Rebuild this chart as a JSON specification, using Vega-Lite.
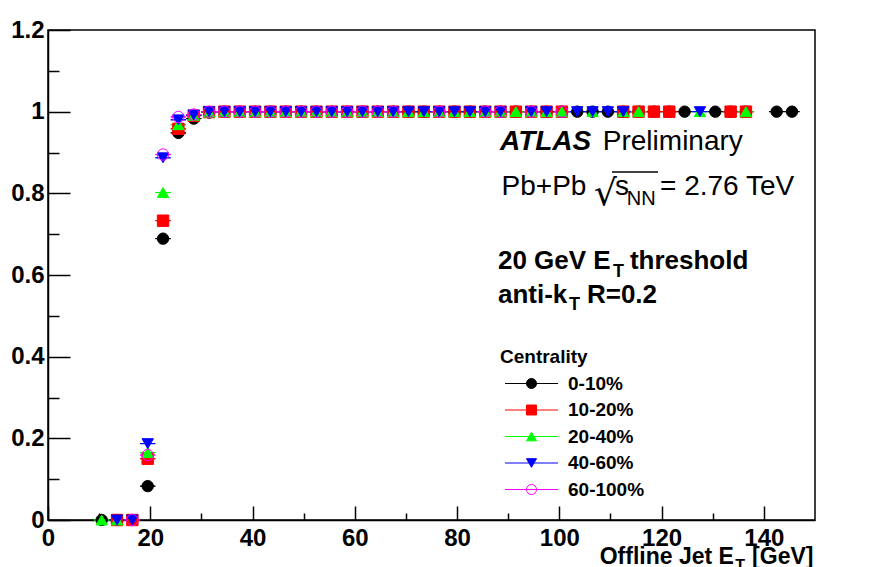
{
  "$schema": "https://vega.github.io/schema/vega-lite/v6.json",
  "width": 767,
  "height": 490,
  "autosize": {"type": "none"},
  "padding": {"left": 48, "top": 30, "right": 64, "bottom": 47},
  "background": "white",
  "config": {
    "view": {"stroke": "black", "strokeWidth": 1.5},
    "font": "Liberation Sans",
    "axis": {
      "domainColor": "black", "domainWidth": 1.5,
      "tickColor": "black", "tickWidth": 1.5,
      "grid": false,
      "labelFont": "Liberation Sans", "labelFontWeight": "bold", "labelFontSize": 24, "labelColor": "black"
    }
  },
  "datasets": {
    "eff": [
      {"cent": "0-10%", "et": 10.5, "eff": 0}, {"cent": "0-10%", "et": 13.5, "eff": 0}, {"cent": "0-10%", "et": 16.5, "eff": 0},
      {"cent": "0-10%", "et": 19.5, "eff": 0.083}, {"cent": "0-10%", "et": 22.5, "eff": 0.689}, {"cent": "0-10%", "et": 25.5, "eff": 0.948},
      {"cent": "0-10%", "et": 28.5, "eff": 0.983}, {"cent": "0-10%", "et": 31.5, "eff": 0.998}, {"cent": "0-10%", "et": 34.5, "eff": 1},
      {"cent": "0-10%", "et": 37.5, "eff": 1}, {"cent": "0-10%", "et": 40.5, "eff": 1}, {"cent": "0-10%", "et": 43.5, "eff": 1},
      {"cent": "0-10%", "et": 46.5, "eff": 1}, {"cent": "0-10%", "et": 49.5, "eff": 1}, {"cent": "0-10%", "et": 52.5, "eff": 1},
      {"cent": "0-10%", "et": 55.5, "eff": 1}, {"cent": "0-10%", "et": 58.5, "eff": 1}, {"cent": "0-10%", "et": 61.5, "eff": 1},
      {"cent": "0-10%", "et": 64.5, "eff": 1}, {"cent": "0-10%", "et": 67.5, "eff": 1}, {"cent": "0-10%", "et": 70.5, "eff": 1},
      {"cent": "0-10%", "et": 73.5, "eff": 1}, {"cent": "0-10%", "et": 76.5, "eff": 1}, {"cent": "0-10%", "et": 79.5, "eff": 1},
      {"cent": "0-10%", "et": 82.5, "eff": 1}, {"cent": "0-10%", "et": 85.5, "eff": 1}, {"cent": "0-10%", "et": 88.5, "eff": 1},
      {"cent": "0-10%", "et": 91.5, "eff": 1}, {"cent": "0-10%", "et": 94.5, "eff": 1}, {"cent": "0-10%", "et": 97.5, "eff": 1},
      {"cent": "0-10%", "et": 100.5, "eff": 1}, {"cent": "0-10%", "et": 103.5, "eff": 1}, {"cent": "0-10%", "et": 106.5, "eff": 1},
      {"cent": "0-10%", "et": 109.5, "eff": 1}, {"cent": "0-10%", "et": 112.5, "eff": 1}, {"cent": "0-10%", "et": 115.5, "eff": 1},
      {"cent": "0-10%", "et": 118.5, "eff": 1}, {"cent": "0-10%", "et": 121.5, "eff": 1}, {"cent": "0-10%", "et": 124.5, "eff": 1},
      {"cent": "0-10%", "et": 130.5, "eff": 1}, {"cent": "0-10%", "et": 133.5, "eff": 1}, {"cent": "0-10%", "et": 136.5, "eff": 1},
      {"cent": "0-10%", "et": 142.5, "eff": 1}, {"cent": "0-10%", "et": 145.5, "eff": 1},

      {"cent": "10-20%", "et": 13.5, "eff": 0}, {"cent": "10-20%", "et": 16.5, "eff": 0}, {"cent": "10-20%", "et": 19.5, "eff": 0.15},
      {"cent": "10-20%", "et": 22.5, "eff": 0.733}, {"cent": "10-20%", "et": 25.5, "eff": 0.958}, {"cent": "10-20%", "et": 28.5, "eff": 0.99},
      {"cent": "10-20%", "et": 31.5, "eff": 0.999}, {"cent": "10-20%", "et": 34.5, "eff": 1}, {"cent": "10-20%", "et": 37.5, "eff": 1},
      {"cent": "10-20%", "et": 40.5, "eff": 1}, {"cent": "10-20%", "et": 43.5, "eff": 1}, {"cent": "10-20%", "et": 46.5, "eff": 1},
      {"cent": "10-20%", "et": 49.5, "eff": 1}, {"cent": "10-20%", "et": 52.5, "eff": 1}, {"cent": "10-20%", "et": 55.5, "eff": 1},
      {"cent": "10-20%", "et": 58.5, "eff": 1}, {"cent": "10-20%", "et": 61.5, "eff": 1}, {"cent": "10-20%", "et": 64.5, "eff": 1},
      {"cent": "10-20%", "et": 67.5, "eff": 1}, {"cent": "10-20%", "et": 70.5, "eff": 1}, {"cent": "10-20%", "et": 73.5, "eff": 1},
      {"cent": "10-20%", "et": 76.5, "eff": 1}, {"cent": "10-20%", "et": 79.5, "eff": 1}, {"cent": "10-20%", "et": 82.5, "eff": 1},
      {"cent": "10-20%", "et": 85.5, "eff": 1}, {"cent": "10-20%", "et": 88.5, "eff": 1}, {"cent": "10-20%", "et": 91.5, "eff": 1},
      {"cent": "10-20%", "et": 94.5, "eff": 1}, {"cent": "10-20%", "et": 97.5, "eff": 1}, {"cent": "10-20%", "et": 100.5, "eff": 1},
      {"cent": "10-20%", "et": 112.5, "eff": 1}, {"cent": "10-20%", "et": 115.5, "eff": 1}, {"cent": "10-20%", "et": 118.5, "eff": 1},
      {"cent": "10-20%", "et": 121.5, "eff": 1}, {"cent": "10-20%", "et": 133.5, "eff": 1}, {"cent": "10-20%", "et": 136.5, "eff": 1},

      {"cent": "20-40%", "et": 10.5, "eff": 0}, {"cent": "20-40%", "et": 13.5, "eff": 0}, {"cent": "20-40%", "et": 19.5, "eff": 0.165},
      {"cent": "20-40%", "et": 22.5, "eff": 0.802}, {"cent": "20-40%", "et": 25.5, "eff": 0.968}, {"cent": "20-40%", "et": 28.5, "eff": 0.991},
      {"cent": "20-40%", "et": 31.5, "eff": 0.999}, {"cent": "20-40%", "et": 34.5, "eff": 1}, {"cent": "20-40%", "et": 37.5, "eff": 1},
      {"cent": "20-40%", "et": 40.5, "eff": 1}, {"cent": "20-40%", "et": 43.5, "eff": 1}, {"cent": "20-40%", "et": 46.5, "eff": 1},
      {"cent": "20-40%", "et": 49.5, "eff": 1}, {"cent": "20-40%", "et": 52.5, "eff": 1}, {"cent": "20-40%", "et": 55.5, "eff": 1},
      {"cent": "20-40%", "et": 58.5, "eff": 1}, {"cent": "20-40%", "et": 61.5, "eff": 1}, {"cent": "20-40%", "et": 64.5, "eff": 1},
      {"cent": "20-40%", "et": 67.5, "eff": 1}, {"cent": "20-40%", "et": 70.5, "eff": 1}, {"cent": "20-40%", "et": 73.5, "eff": 1},
      {"cent": "20-40%", "et": 76.5, "eff": 1}, {"cent": "20-40%", "et": 79.5, "eff": 1}, {"cent": "20-40%", "et": 82.5, "eff": 1},
      {"cent": "20-40%", "et": 85.5, "eff": 1}, {"cent": "20-40%", "et": 88.5, "eff": 1}, {"cent": "20-40%", "et": 91.5, "eff": 1},
      {"cent": "20-40%", "et": 94.5, "eff": 1}, {"cent": "20-40%", "et": 97.5, "eff": 1}, {"cent": "20-40%", "et": 100.5, "eff": 1},
      {"cent": "20-40%", "et": 106.5, "eff": 1}, {"cent": "20-40%", "et": 112.5, "eff": 1}, {"cent": "20-40%", "et": 115.5, "eff": 1},
      {"cent": "20-40%", "et": 127.5, "eff": 1}, {"cent": "20-40%", "et": 136.5, "eff": 1},

      {"cent": "40-60%", "et": 13.5, "eff": 0}, {"cent": "40-60%", "et": 16.5, "eff": 0}, {"cent": "40-60%", "et": 19.5, "eff": 0.187},
      {"cent": "40-60%", "et": 22.5, "eff": 0.887}, {"cent": "40-60%", "et": 25.5, "eff": 0.98}, {"cent": "40-60%", "et": 28.5, "eff": 0.992},
      {"cent": "40-60%", "et": 31.5, "eff": 1}, {"cent": "40-60%", "et": 34.5, "eff": 1}, {"cent": "40-60%", "et": 37.5, "eff": 1},
      {"cent": "40-60%", "et": 40.5, "eff": 1}, {"cent": "40-60%", "et": 43.5, "eff": 1}, {"cent": "40-60%", "et": 46.5, "eff": 1},
      {"cent": "40-60%", "et": 49.5, "eff": 1}, {"cent": "40-60%", "et": 52.5, "eff": 1}, {"cent": "40-60%", "et": 55.5, "eff": 1},
      {"cent": "40-60%", "et": 58.5, "eff": 1}, {"cent": "40-60%", "et": 61.5, "eff": 1}, {"cent": "40-60%", "et": 64.5, "eff": 1},
      {"cent": "40-60%", "et": 67.5, "eff": 1}, {"cent": "40-60%", "et": 70.5, "eff": 1}, {"cent": "40-60%", "et": 73.5, "eff": 1},
      {"cent": "40-60%", "et": 76.5, "eff": 1}, {"cent": "40-60%", "et": 79.5, "eff": 1}, {"cent": "40-60%", "et": 82.5, "eff": 1},
      {"cent": "40-60%", "et": 85.5, "eff": 1}, {"cent": "40-60%", "et": 88.5, "eff": 1}, {"cent": "40-60%", "et": 94.5, "eff": 1},
      {"cent": "40-60%", "et": 97.5, "eff": 1}, {"cent": "40-60%", "et": 103.5, "eff": 1}, {"cent": "40-60%", "et": 106.5, "eff": 1},
      {"cent": "40-60%", "et": 109.5, "eff": 1}, {"cent": "40-60%", "et": 112.5, "eff": 1}, {"cent": "40-60%", "et": 127.5, "eff": 1},

      {"cent": "60-100%", "et": 16.5, "eff": 0}, {"cent": "60-100%", "et": 19.5, "eff": 0.159}, {"cent": "60-100%", "et": 22.5, "eff": 0.895},
      {"cent": "60-100%", "et": 25.5, "eff": 0.987}, {"cent": "60-100%", "et": 28.5, "eff": 0.993}, {"cent": "60-100%", "et": 31.5, "eff": 1},
      {"cent": "60-100%", "et": 34.5, "eff": 1}, {"cent": "60-100%", "et": 37.5, "eff": 1}, {"cent": "60-100%", "et": 40.5, "eff": 1},
      {"cent": "60-100%", "et": 43.5, "eff": 1}, {"cent": "60-100%", "et": 46.5, "eff": 1}, {"cent": "60-100%", "et": 49.5, "eff": 1},
      {"cent": "60-100%", "et": 52.5, "eff": 1}, {"cent": "60-100%", "et": 55.5, "eff": 1}, {"cent": "60-100%", "et": 58.5, "eff": 1},
      {"cent": "60-100%", "et": 61.5, "eff": 1}, {"cent": "60-100%", "et": 64.5, "eff": 1}, {"cent": "60-100%", "et": 67.5, "eff": 1},
      {"cent": "60-100%", "et": 76.5, "eff": 1}, {"cent": "60-100%", "et": 85.5, "eff": 1}, {"cent": "60-100%", "et": 88.5, "eff": 1},
      {"cent": "60-100%", "et": 94.5, "eff": 1}, {"cent": "60-100%", "et": 100.5, "eff": 1}
    ]
  },
  "layer": [
    {
      "data": {"name": "eff"},
      "mark": {"type": "tick", "orient": "horizontal", "size": 15.3, "thickness": 0.1, "filled": false, "strokeWidth": 1, "opacity": 1},
      "encoding": {
        "x": {"field": "et", "type": "quantitative", "scale": {"domain": [0, 150], "nice": false, "zero": false},
          "axis": {
            "orient": "bottom", "title": null,
            "values": [0, 5, 10, 15, 20, 25, 30, 35, 40, 45, 50, 55, 60, 65, 70, 75, 80, 85, 90, 95, 100, 105, 110, 115, 120, 125, 130, 135, 140, 145],
            "tickSize": {"condition": {"test": "datum.value % 20 === 0", "value": -14}, "value": -7},
            "labelExpr": "datum.value % 20 === 0 ? datum.label : ''",
            "labelPadding": 20, "format": "d", "labelFlush": false, "labelOverlap": false
          }},
        "y": {"field": "eff", "type": "quantitative", "scale": {"domain": [0, 1.2], "nice": false, "zero": false},
          "axis": {
            "orient": "left", "title": null,
            "values": [0, 0.05, 0.1, 0.15, 0.2, 0.25, 0.3, 0.35, 0.4, 0.45, 0.5, 0.55, 0.6, 0.65, 0.7, 0.75, 0.8, 0.85, 0.9, 0.95, 1, 1.05, 1.1, 1.15, 1.2],
            "tickSize": {"condition": {"test": "round(datum.value * 100) % 20 === 0", "value": -22}, "value": -11},
            "labelExpr": "round(datum.value * 100) % 20 === 0 ? datum.label : ''",
            "labelPadding": 26, "format": "~g", "labelFlush": false, "labelOverlap": false
          }},
        "color": {"field": "cent", "type": "nominal",
          "scale": {"range": ["#000000", "#ff0000", "#00ff00", "#0000ff", "#ff00ff"]},
          "legend": {
            "title": "Centrality", "orient": "none", "legendX": 452, "legendY": 318, "padding": 0,
            "titleFont": "Liberation Sans", "titleFontWeight": "bold", "titleFontSize": 19, "titleColor": "transparent", "titlePadding": 7,
            "labelFont": "Liberation Sans", "labelFontWeight": "bold", "labelFontSize": 19, "labelColor": "transparent", "labelOffset": 27,
            "symbolType": "M-5.3,0H5.3", "symbolSize": 100, "symbolStrokeWidth": 1, "symbolOffset": 22, "rowPadding": 6.5, "symbolOpacity": 1
          }}
      }
    },
    {
      "data": {"name": "eff"},
      "mark": {"type": "point", "filled": true, "size": 130, "strokeWidth": 1, "opacity": 1},
      "encoding": {
        "x": {"field": "et", "type": "quantitative"},
        "y": {"field": "eff", "type": "quantitative"},
        "shape": {"field": "cent", "type": "nominal",
          "scale": {"domain": ["0-10%", "10-20%", "20-40%", "40-60%", "60-100%"], "range": ["circle", "square", "triangle-up", "triangle-down", "circle"]},
          "legend": {
            "title": "Centrality", "orient": "none", "legendX": 452, "legendY": 318, "padding": 0,
            "titleFont": "Liberation Sans", "titleFontWeight": "bold", "titleFontSize": 19, "titleColor": "black", "titlePadding": 7,
            "labelFont": "Liberation Sans", "labelFontWeight": "bold", "labelFontSize": 19, "labelColor": "black", "labelOffset": 27,
            "symbolSize": 100, "symbolStrokeWidth": 1, "symbolOffset": 22, "rowPadding": 6.5, "symbolOpacity": 1
          }},
        "fill": {"field": "cent", "type": "nominal",
          "scale": {"domain": ["0-10%", "10-20%", "20-40%", "40-60%", "60-100%"], "range": ["#000000", "#ff0000", "#00ff00", "#0000ff", "transparent"]},
          "legend": null},
        "stroke": {"field": "cent", "type": "nominal",
          "scale": {"domain": ["0-10%", "10-20%", "20-40%", "40-60%", "60-100%"], "range": ["#000000", "#ff0000", "#00ff00", "#0000ff", "#ff00ff"]},
          "legend": null}
      }
    },
    {
      "data": {"values": [{}]},
      "mark": {"type": "text", "align": "left", "baseline": "alphabetic", "font": "Liberation Sans", "fontSize": 28, "fontWeight": "bold", "fontStyle": "italic", "color": "black"},
      "encoding": {"x": {"datum": 88.4, "type": "quantitative"}, "y": {"datum": 0.906, "type": "quantitative"}, "text": {"value": "ATLAS"}}
    },
    {
      "data": {"values": [{}]},
      "mark": {"type": "text", "align": "left", "baseline": "alphabetic", "font": "Liberation Sans", "fontSize": 28, "color": "black"},
      "encoding": {"x": {"datum": 108.5, "type": "quantitative"}, "y": {"datum": 0.906, "type": "quantitative"}, "text": {"value": "Preliminary"}}
    },
    {
      "data": {"values": [{}]},
      "mark": {"type": "text", "align": "left", "baseline": "alphabetic", "font": "Liberation Sans", "fontSize": 28, "color": "black"},
      "encoding": {"x": {"datum": 88.7, "type": "quantitative"}, "y": {"datum": 0.796, "type": "quantitative"}, "text": {"value": "Pb+Pb"}}
    },
    {
      "data": {"values": [{}]},
      "mark": {"type": "text", "align": "left", "baseline": "alphabetic", "font": "DejaVu Sans", "fontSize": 36, "color": "black"},
      "encoding": {"x": {"datum": 106.8, "type": "quantitative"}, "y": {"datum": 0.772, "type": "quantitative"}, "text": {"value": "√"}}
    },
    {
      "data": {"values": [{}]},
      "mark": {"type": "rule", "color": "black", "strokeWidth": 1.5},
      "encoding": {"x": {"datum": 110.3, "type": "quantitative"}, "x2": {"datum": 119.3}, "y": {"datum": 0.852, "type": "quantitative"}}
    },
    {
      "data": {"values": [{}]},
      "mark": {"type": "text", "align": "left", "baseline": "alphabetic", "font": "Liberation Sans", "fontSize": 28, "color": "black"},
      "encoding": {"x": {"datum": 110.9, "type": "quantitative"}, "y": {"datum": 0.796, "type": "quantitative"}, "text": {"value": "s"}}
    },
    {
      "data": {"values": [{}]},
      "mark": {"type": "text", "align": "left", "baseline": "alphabetic", "font": "Liberation Sans", "fontSize": 20, "color": "black"},
      "encoding": {"x": {"datum": 113.2, "type": "quantitative"}, "y": {"datum": 0.771, "type": "quantitative"}, "text": {"value": "NN"}}
    },
    {
      "data": {"values": [{}]},
      "mark": {"type": "text", "align": "left", "baseline": "alphabetic", "font": "Liberation Sans", "fontSize": 28, "color": "black"},
      "encoding": {"x": {"datum": 119.7, "type": "quantitative"}, "y": {"datum": 0.796, "type": "quantitative"}, "text": {"value": "= 2.76 TeV"}}
    },
    {
      "data": {"values": [{}]},
      "mark": {"type": "text", "align": "left", "baseline": "alphabetic", "font": "Liberation Sans", "fontSize": 26, "fontWeight": "bold", "color": "black"},
      "encoding": {"x": {"datum": 88.0, "type": "quantitative"}, "y": {"datum": 0.614, "type": "quantitative"}, "text": {"value": "20 GeV E"}}
    },
    {
      "data": {"values": [{}]},
      "mark": {"type": "text", "align": "left", "baseline": "alphabetic", "font": "Liberation Sans", "fontSize": 18, "fontWeight": "bold", "color": "black"},
      "encoding": {"x": {"datum": 110.5, "type": "quantitative"}, "y": {"datum": 0.596, "type": "quantitative"}, "text": {"value": "T"}}
    },
    {
      "data": {"values": [{}]},
      "mark": {"type": "text", "align": "left", "baseline": "alphabetic", "font": "Liberation Sans", "fontSize": 26, "fontWeight": "bold", "color": "black"},
      "encoding": {"x": {"datum": 113.8, "type": "quantitative"}, "y": {"datum": 0.614, "type": "quantitative"}, "text": {"value": "threshold"}}
    },
    {
      "data": {"values": [{}]},
      "mark": {"type": "text", "align": "left", "baseline": "alphabetic", "font": "Liberation Sans", "fontSize": 26, "fontWeight": "bold", "color": "black"},
      "encoding": {"x": {"datum": 88.0, "type": "quantitative"}, "y": {"datum": 0.531, "type": "quantitative"}, "text": {"value": "anti-k"}}
    },
    {
      "data": {"values": [{}]},
      "mark": {"type": "text", "align": "left", "baseline": "alphabetic", "font": "Liberation Sans", "fontSize": 18, "fontWeight": "bold", "color": "black"},
      "encoding": {"x": {"datum": 101.9, "type": "quantitative"}, "y": {"datum": 0.514, "type": "quantitative"}, "text": {"value": "T"}}
    },
    {
      "data": {"values": [{}]},
      "mark": {"type": "text", "align": "left", "baseline": "alphabetic", "font": "Liberation Sans", "fontSize": 26, "fontWeight": "bold", "color": "black"},
      "encoding": {"x": {"datum": 105.4, "type": "quantitative"}, "y": {"datum": 0.531, "type": "quantitative"}, "text": {"value": "R=0.2"}}
    },
    {
      "data": {"values": [{}]},
      "mark": {"type": "text", "align": "left", "baseline": "alphabetic", "font": "Liberation Sans", "fontSize": 23, "fontWeight": "bold", "color": "black"},
      "encoding": {"x": {"datum": 107.9, "type": "quantitative"}, "y": {"datum": -0.108, "type": "quantitative"}, "text": {"value": "Offline Jet E"}}
    },
    {
      "data": {"values": [{}]},
      "mark": {"type": "text", "align": "left", "baseline": "alphabetic", "font": "Liberation Sans", "fontSize": 16, "fontWeight": "bold", "color": "black"},
      "encoding": {"x": {"datum": 134.4, "type": "quantitative"}, "y": {"datum": -0.124, "type": "quantitative"}, "text": {"value": "T"}}
    },
    {
      "data": {"values": [{}]},
      "mark": {"type": "text", "align": "left", "baseline": "alphabetic", "font": "Liberation Sans", "fontSize": 23, "fontWeight": "bold", "color": "black"},
      "encoding": {"x": {"datum": 137.7, "type": "quantitative"}, "y": {"datum": -0.108, "type": "quantitative"}, "text": {"value": "[GeV]"}}
    }
  ]
}
